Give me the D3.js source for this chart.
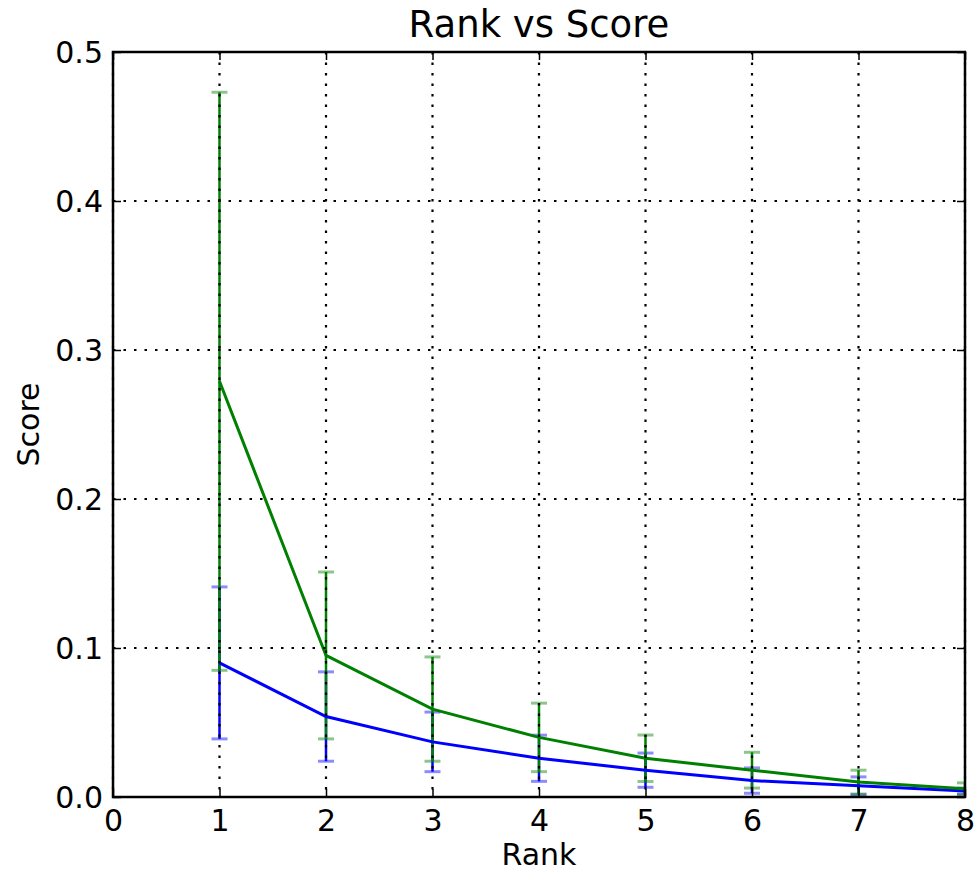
<!DOCTYPE html>
<html>
	<head>
		<title> Rank vs Score </title>
		<style>
			body { margin: 0; background: #fff; }
			text { font-family: "DejaVu Sans", sans-serif; fill: #000; }
		</style>
	</head>
	<body>
		<!-- load the library for D3.js -->
		<script src="https://d3js.org/d3.v7.min.js"></script>
		<script>
				// chart data
				var ranks = [1, 2, 3, 4, 5, 6, 7, 8];
				var blueScore = [0.090, 0.054, 0.037, 0.026, 0.018, 0.011, 0.0075, 0.004];
				var blueErr = [0.051, 0.030, 0.020, 0.0155, 0.0115, 0.0085, 0.006, 0.002];
				var greenScore = [0.279, 0.095, 0.059, 0.040, 0.026, 0.018, 0.010, 0.0055];
				var greenErr = [0.194, 0.056, 0.035, 0.023, 0.0156, 0.012, 0.008, 0.004];
				var xTicks = [0, 1, 2, 3, 4, 5, 6, 7, 8];
				var yTicks = [0.0, 0.1, 0.2, 0.3, 0.4, 0.5];

				//defining SVG width and height
				var margin = {top: 52, right: 10, bottom: 75, left: 113};
				var width = 975 - margin.left - margin.right,
					height = 872 - margin.top - margin.bottom;

				//creating scales
				var xScale = d3.scaleLinear().domain([0, 8]).range([0, width]);
				var yScale = d3.scaleLinear().domain([0, 0.5]).range([height, 0]);

				var svgGraph = d3.select("body")
								.append("svg")
								.attr("width", 975)
								.attr("height", 872);
				var svg = svgGraph.append("g")
								.attr("transform", "translate(" + margin.left + "," + margin.top + ")");

				svg.append("clipPath")
						.attr("id", "plotclip")
						.append("rect")
						.attr("width", width)
						.attr("height", height);

				var plot = svg.append("g").attr("clip-path", "url(#plotclip)");

				var series = [
					{color: "#0000ff", mean: blueScore, err: blueErr},
					{color: "#008000", mean: greenScore, err: greenErr}
				];

				var line = d3.line()
							.x(function(d) { return xScale(d[0]); })
							.y(function(d) { return yScale(d[1]); });

				// error bars and lines, blue first then green
				series.forEach(function(s) {
					var pts = ranks.map(function(r, i) { return [r, s.mean[i], s.err[i]]; });
					var g = plot.append("g");
					g.selectAll(".ebar")
						.data(pts)
						.enter().append("line")
						.attr("x1", function(d) { return xScale(d[0]); })
						.attr("x2", function(d) { return xScale(d[0]); })
						.attr("y1", function(d) { return yScale(d[1] - d[2]); })
						.attr("y2", function(d) { return yScale(d[1] + d[2]); })
						.attr("stroke", s.color)
						.attr("stroke-width", 2.5);
					[-1, 1].forEach(function(sign) {
						g.selectAll(".cap" + sign)
							.data(pts)
							.enter().append("line")
							.attr("x1", function(d) { return xScale(d[0]) - 8; })
							.attr("x2", function(d) { return xScale(d[0]) + 8; })
							.attr("y1", function(d) { return yScale(d[1] + sign * d[2]); })
							.attr("y2", function(d) { return yScale(d[1] + sign * d[2]); })
							.attr("stroke", s.color)
							.attr("stroke-opacity", 0.45)
							.attr("stroke-width", 3);
					});
					s.pts = pts;
				});

				series.forEach(function(s) {
					plot.append("path")
						.datum(s.pts)
						.attr("fill", "none")
						.attr("stroke", s.color)
						.attr("stroke-width", 3)
						.attr("d", line);
				});

				// dotted grid on top
				svg.selectAll(".vgrid")
						.data(xTicks)
						.enter().append("line")
						.attr("x1", function(d) { return xScale(d); })
						.attr("x2", function(d) { return xScale(d); })
						.attr("y1", 0)
						.attr("y2", height)
						.attr("stroke", "#000")
						.attr("stroke-width", 2.2)
						.attr("stroke-dasharray", "2.5,8");
				svg.selectAll(".hgrid")
						.data(yTicks)
						.enter().append("line")
						.attr("x1", 0)
						.attr("x2", width)
						.attr("y1", function(d) { return yScale(d); })
						.attr("y2", function(d) { return yScale(d); })
						.attr("stroke", "#000")
						.attr("stroke-width", 2.2)
						.attr("stroke-dasharray", "2.5,8");

				// adding axes with inward ticks
				var xAxis = svg.append("g")
						.attr("transform", "translate(0," + height + ")")
						.call(d3.axisBottom(xScale).tickValues(xTicks).tickFormat(d3.format("d")).tickSizeInner(-8).tickSizeOuter(0).tickPadding(12));
				svg.append("g")
						.call(d3.axisTop(xScale).tickValues(xTicks).tickFormat("").tickSizeInner(-8).tickSizeOuter(0));
				var yAxis = svg.append("g")
						.call(d3.axisLeft(yScale).tickValues(yTicks).tickFormat(d3.format(".1f")).tickSizeInner(-8).tickSizeOuter(0).tickPadding(10));
				svg.append("g")
						.attr("transform", "translate(" + width + ",0)")
						.call(d3.axisRight(yScale).tickValues(yTicks).tickFormat("").tickSizeInner(-8).tickSizeOuter(0));

				svg.selectAll(".domain").remove();
				svg.selectAll(".tick line").attr("stroke", "#000").attr("stroke-width", 1.5);
				xAxis.selectAll("text").style("font-size", "30px").style("font-family", "DejaVu Sans").attr("dy", "0.72em");
				yAxis.selectAll("text").style("font-size", "30px").style("font-family", "DejaVu Sans").attr("dy", "0.36em");

				// frame
				svg.append("rect")
						.attr("width", width)
						.attr("height", height)
						.attr("fill", "none")
						.attr("stroke", "#000")
						.attr("stroke-width", 2.5);

				// title and axis labels
				svg.append("text")
						.attr("x", width / 2)
						.attr("y", -15)
						.attr("text-anchor", "middle")
						.style("font-size", "37px")
						.text("Rank vs Score");
				svg.append("text")
						.attr("x", width / 2)
						.attr("y", height + 68)
						.attr("text-anchor", "middle")
						.style("font-size", "30px")
						.text("Rank");
				svg.append("text")
						.attr("transform", "translate(-74," + (height / 2) + ") rotate(-90)")
						.attr("text-anchor", "middle")
						.style("font-size", "30px")
						.text("Score");
		</script>
	</body>
</html>
